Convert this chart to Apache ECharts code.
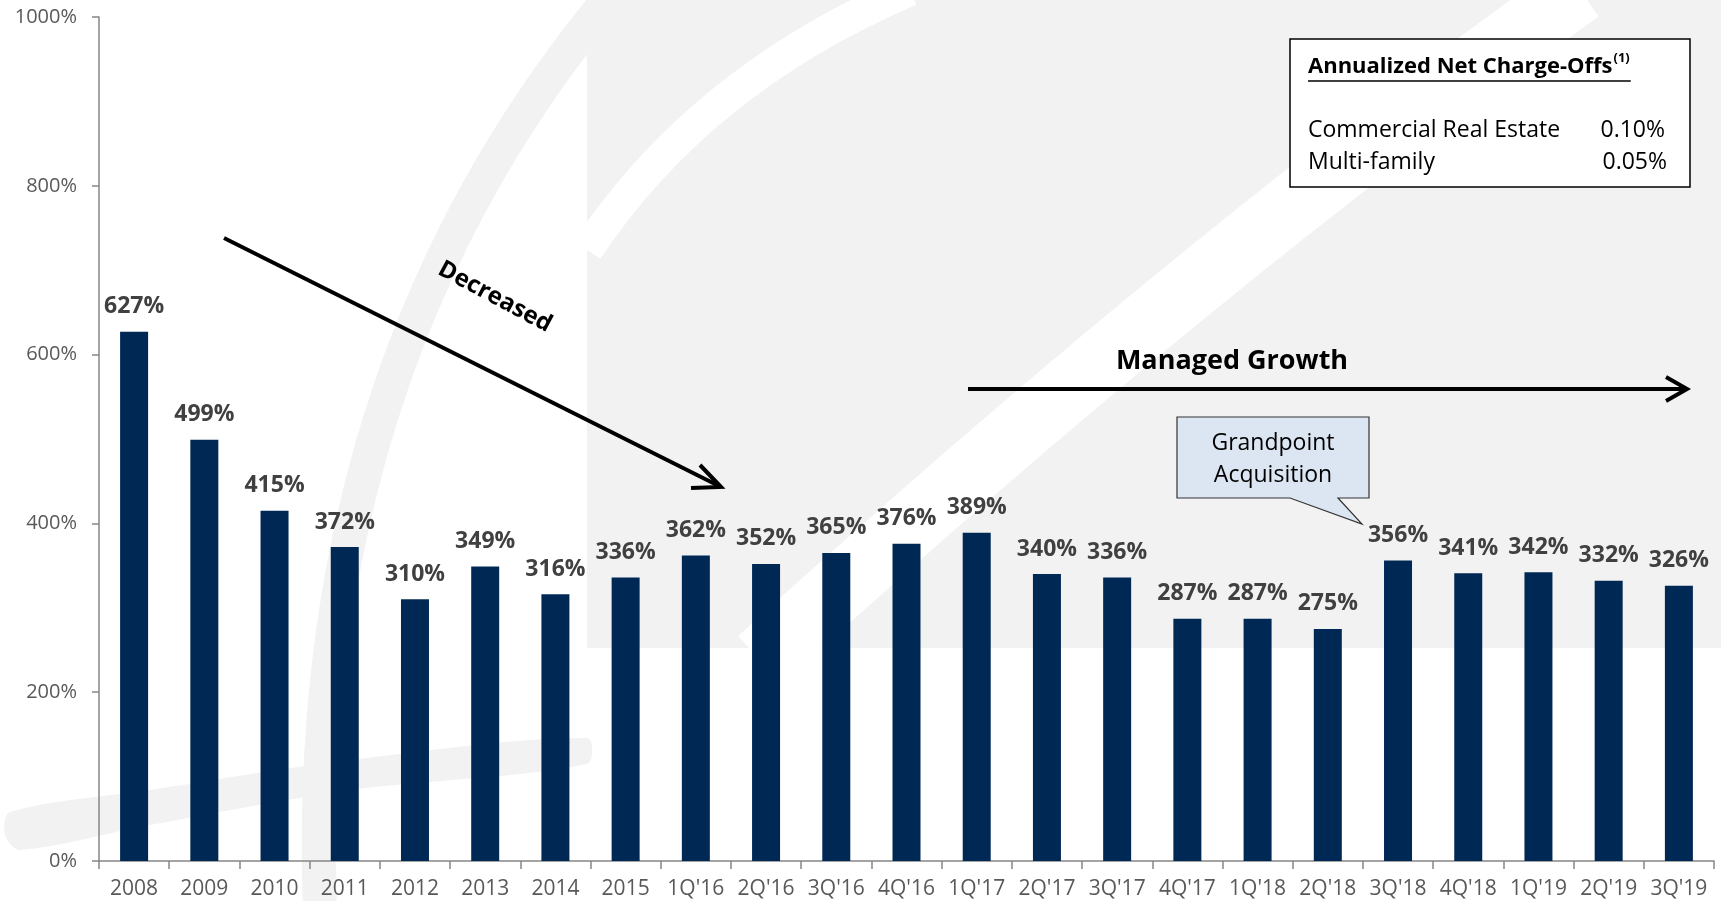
<!DOCTYPE html>
<html>
<head>
<meta charset="utf-8">
<script src="https://cdn.jsdelivr.net/npm/echarts@6/dist/echarts.min.js"></script>
<style>
html,body{margin:0;padding:0;background:#fff;}
#chart{width:1721px;height:901px;}
</style>
</head>
<body>
<div id="chart"></div>
<script>
const categories = ['2008','2009','2010','2011','2012','2013','2014','2015',"1Q'16","2Q'16","3Q'16","4Q'16","1Q'17","2Q'17","3Q'17","4Q'17","1Q'18","2Q'18","3Q'18","4Q'18","1Q'19","2Q'19","3Q'19"];
const coverage = [627,499,415,372,310,349,316,336,362,352,365,376,389,340,336,287,287,275,356,341,342,332,326];
const yAxisMin = 0;
const yAxisMax = 1000;
const yAxisStep = 200;
const boxTitle = 'Annualized Net Charge-Offs';
const boxNote = '(1)';
const boxRows = ['Commercial Real Estate', 'Multi-family'];
const boxValues = ['0.10%', '0.05%'];
const calloutLines = ['Grandpoint', 'Acquisition'];
const arrowText1 = 'Decreased';
const arrowText2 = 'Managed Growth';

const FONT = '"Open Sans", "Noto Sans", sans-serif';
const chart = echarts.init(document.getElementById('chart'));

function measure(txt, font) {
  const c = document.createElement('canvas').getContext('2d');
  c.font = font;
  return c.measureText(txt).width;
}
const titleW = measure(boxTitle, 'bold 22px "Open Sans"');
const noteW = measure(boxNote, 'bold 13px "Open Sans"');

const WM = '#f2f2f2';
const graphics = [
  // watermark
  {type:'rect', z:-10, shape:{x:587,y:0,width:1134,height:648}, style:{fill:WM}, silent:true},
  {type:'bezierCurve', z:-9, shape:{x1:1580,y1:-10,cpx1:1200,cpy1:260,x2:760,y2:660}, style:{stroke:'#fff',lineWidth:65,fill:null}, silent:true},
  {type:'bezierCurve', z:-9, shape:{x1:910,y1:-10,cpx1:700,cpy1:80,x2:587,y2:250}, style:{stroke:'#fff',lineWidth:32,fill:null}, silent:true},
  {type:'bezierCurve', z:-10, shape:{x1:600,y1:10,cpx1:300,cpy1:380,x2:320,y2:910}, style:{stroke:WM,lineWidth:34,fill:null}, silent:true},
  {type:'polygon', z:-10, shape:{points:[[10,812],[150,790],[350,760],[587,738],[587,764],[350,790],[150,825],[20,850],[5,835]], smooth:0.3}, style:{fill:WM}, silent:true},
  // Decreased arrow
  {type:'line', z:100, shape:{x1:224,y1:238,x2:719,y2:486}, style:{stroke:'#000',lineWidth:4}},
  {type:'polyline', z:100, shape:{points:[[700,465],[721,487],[691,488]]}, style:{stroke:'#000',lineWidth:4,fill:null}},
  {type:'text', z:100, x:495, y:297, rotation:-0.49, style:{text:arrowText1, font:'bold 24px ' + FONT, fill:'#000', align:'center', verticalAlign:'middle'}},
  // Managed growth arrow
  {type:'line', z:100, shape:{x1:968,y1:389,x2:1685,y2:389}, style:{stroke:'#000',lineWidth:4}},
  {type:'polyline', z:100, shape:{points:[[1666,377],[1687,389],[1666,401]]}, style:{stroke:'#000',lineWidth:4,fill:null}},
  {type:'text', z:100, x:1232, y:361, style:{text:arrowText2, font:'bold 27px ' + FONT, fill:'#000', align:'center', verticalAlign:'middle'}},
  // legend box
  {type:'rect', z:100, shape:{x:1290,y:39,width:400,height:148}, style:{fill:'#fff',stroke:'#000',lineWidth:1.5}},
  {type:'text', z:101, x:1308, y:67, style:{text:boxTitle, font:'bold 22px ' + FONT, fill:'#000', align:'left', verticalAlign:'middle'}},
  {type:'text', z:101, x:1308 + titleW + 1, y:58, style:{text:boxNote, font:'bold 13px ' + FONT, fill:'#000', align:'left', verticalAlign:'middle'}},
  {type:'line', z:101, shape:{x1:1308,y1:81,x2:1308 + titleW + noteW + 2,y2:81}, style:{stroke:'#000',lineWidth:1.5}},
  {type:'text', z:101, x:1308, y:130, style:{text:boxRows[0], font:'23px ' + FONT, fill:'#000', align:'left', verticalAlign:'middle'}},
  {type:'text', z:101, x:1308, y:162, style:{text:boxRows[1], font:'23px ' + FONT, fill:'#000', align:'left', verticalAlign:'middle'}},
  {type:'text', z:101, x:1665, y:130, style:{text:boxValues[0], font:'23px ' + FONT, fill:'#000', align:'right', verticalAlign:'middle'}},
  {type:'text', z:101, x:1667, y:162, style:{text:boxValues[1], font:'23px ' + FONT, fill:'#000', align:'right', verticalAlign:'middle'}},
  // callout
  {type:'polygon', z:100, shape:{points:[[1177,417],[1369,417],[1369,498],[1338,498],[1362,524],[1290,498],[1177,498]]}, style:{fill:'#dce6f2',stroke:'#333',lineWidth:1.2}},
  {type:'text', z:101, x:1273, y:443, style:{text:calloutLines[0], font:'23px ' + FONT, fill:'#000', align:'center', verticalAlign:'middle'}},
  {type:'text', z:101, x:1273, y:475, style:{text:calloutLines[1], font:'23px ' + FONT, fill:'#000', align:'center', verticalAlign:'middle'}}
];

const option = {
  backgroundColor: '#fff',
  animation: false,
  grid: {left: 99, right: 7, top: 17, bottom: 40, containLabel: false},
  xAxis: {
    type: 'category',
    data: categories,
    boundaryGap: true,
    axisLine: {lineStyle: {color: '#868686', width: 1.5}},
    axisTick: {show: true, length: 8, lineStyle: {color: '#868686', width: 1.5}},
    axisLabel: {color: '#595959', fontSize: 21, fontFamily: FONT, margin: 18, interval: 0}
  },
  yAxis: {
    type: 'value',
    min: yAxisMin, max: yAxisMax, interval: yAxisStep,
    axisLine: {show: true, lineStyle: {color: '#868686', width: 1.5}},
    axisTick: {show: true, length: 7, lineStyle: {color: '#868686', width: 1.5}},
    splitLine: {show: false},
    axisLabel: {color: '#595959', fontSize: 20, fontFamily: FONT, margin: 22, formatter: function (v) { return v + '%'; }}
  },
  series: [{
    type: 'bar',
    data: coverage,
    barWidth: 28,
    itemStyle: {color: '#002855'},
    label: {
      show: true, position: 'top', distance: 12,
      formatter: '{c}%',
      color: '#404040', fontSize: 23, fontWeight: 'bold', fontFamily: FONT, lineHeight: 26
    }
  }],
  graphic: graphics
};
chart.setOption(option);
</script>
</body>
</html>
